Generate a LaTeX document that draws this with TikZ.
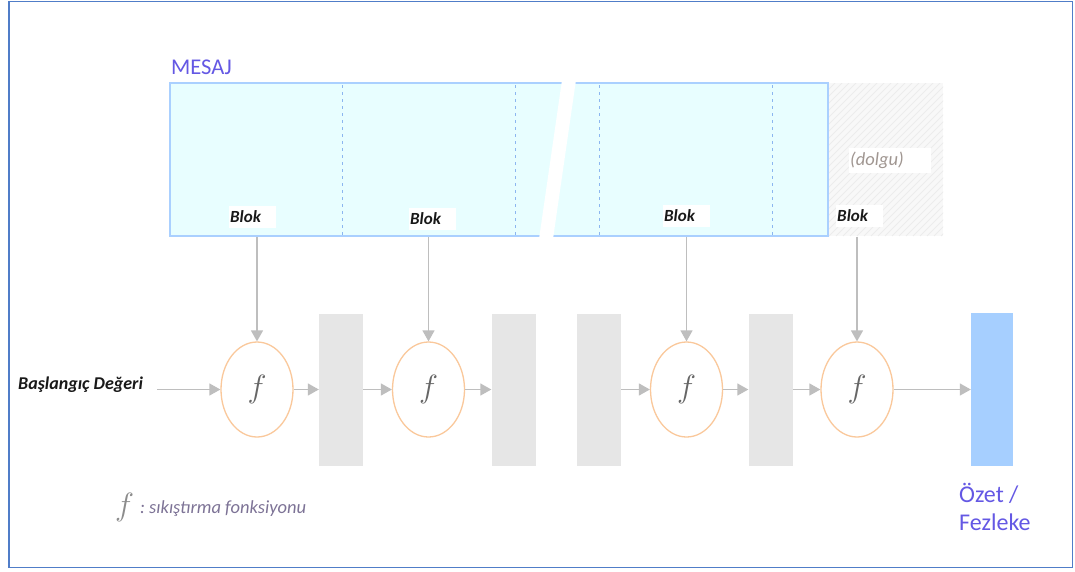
\documentclass[tikz,border=0pt]{standalone}
\usepackage{fontspec}
\setmainfont{Carlito}
\usetikzlibrary{shapes.geometric,arrows.meta}
\definecolor{frameblue}{RGB}{80,125,200}
\definecolor{msgfill}{RGB}{232,254,255}
\definecolor{msgline}{RGB}{170,208,255}
\definecolor{dashblue}{RGB}{140,182,240}
\definecolor{titlecol}{RGB}{100,88,228}
\definecolor{arrowgray}{RGB}{190,190,190}
\definecolor{rectgray}{RGB}{230,230,230}
\definecolor{outblue}{RGB}{166,207,255}
\definecolor{ellcol}{RGB}{250,200,155}
\definecolor{padfill}{RGB}{248,248,248}
\definecolor{padhatch}{RGB}{236,236,236}
\definecolor{dolgucol}{RGB}{160,150,145}
\definecolor{legendcol}{RGB}{125,115,150}
\newcommand{\bigf}{\scalebox{1.55}{\(f\)}}
\tikzset{
  fnode/.style={ellipse, draw=ellcol, line width=1.3pt, minimum width=72pt, minimum height=95pt, inner sep=0pt,
     font=\fontsize{20}{20}\selectfont, text=black!60},
  statebox/.style={rectangle, fill=rectgray, minimum width=44pt, minimum height=152pt, inner sep=0pt},
  outbox/.style={rectangle, fill=outblue, minimum width=42pt, minimum height=153pt, inner sep=0pt},
  flow/.style={draw=arrowgray, line width=1.4pt, -{Triangle[length=11pt,width=12pt]}, arrowgray},
  bloklabel/.style={anchor=west, fill=white, inner xsep=1pt, inner ysep=0pt, text width=45pt, minimum height=22pt, align=left,
     font=\fontsize{17}{17}\selectfont\bfseries\itshape, text=black!90},
  bigtitle/.style={font=\fontsize{22.5}{26}\selectfont, text=titlecol, inner sep=0pt},
  msgdash/.style={dashblue, line width=1pt, dash pattern=on 3pt off 4pt}
}
\begin{document}
\begin{tikzpicture}[x=1pt,y=-1pt]
\useasboundingbox (0,0) rectangle (1075,571);
\fill[white] (0,0) rectangle (1075,571);
\draw[frameblue, line width=1.5pt] (9,1.5) rectangle (1072.5,567.5);

% title
\node[bigtitle, anchor=base west] (mesaj) at (171,74) {MESAJ};

% padding area
\begin{scope}
\clip (828,83) rectangle (943,236);
\fill[padfill] (828,83) rectangle (943,236);
\foreach \k in {0,7,...,280} {
  \draw[padhatch, line width=0.8pt] (828-160+\k,236) -- (828+\k,76);
}
\end{scope}

% message box
\draw[fill=msgfill, draw=msgline, line width=2pt] (170,83) rectangle (828,236);
\foreach \xx in {342,515,599,772} {
  \draw[msgdash] (\xx,85) -- (\xx,235);
}
\fill[white] (562,80) -- (576,80) -- (553,239) -- (539,239) -- cycle;

% dolgu
\node[anchor=west, fill=white, text width=80pt, minimum height=25pt, inner xsep=1pt, inner ysep=0pt, align=left, text=dolgucol,
      font=\fontsize{18.5}{18.5}\selectfont\itshape] (dolgu) at (849,160) {(dolgu)};

% blok labels
\node[bloklabel] (b1) at (229,216.5) {Blok};
\node[bloklabel] (b2) at (409,219) {Blok};
\node[bloklabel] (b3) at (663,215.5) {Blok};
\node[bloklabel] (b4) at (836,216) {Blok};

% processing chain
\node[fnode] (e1) at (257,389.5) {\bigf};
\node[fnode] (e2) at (428.5,389.5) {\bigf};
\node[fnode] (e3) at (686.5,389.5) {\bigf};
\node[fnode] (e4) at (857,389.5) {\bigf};

\node[statebox] (r1) at (341,389.5) {};
\node[statebox] (r2) at (513.5,389.5) {};
\node[statebox] (r3) at (599,389.5) {};
\node[statebox] (r4) at (770.5,389.5) {};
\node[outbox] (out) at (992,389.5) {};

% vertical inputs
\coordinate (m1) at (257,237);
\coordinate (m2) at (428.5,237);
\coordinate (m3) at (686.5,237);
\coordinate (m4) at (857,237);
\draw[flow] (m1) -- (e1);
\draw[flow] (m2) -- (e2);
\draw[flow] (m3) -- (e3);
\draw[flow] (m4) -- (e4);

% start
\node[anchor=west, inner sep=0pt, font=\fontsize{18}{18}\selectfont\bfseries\itshape, text=black!90] (start) at (18,385) {Başlangıç Değeri};
\coordinate (s0) at (157,389.5);
\draw[flow] (s0) -- (e1);
\draw[flow] (e1) -- (r1);
\draw[flow] (r1) -- (e2);
\draw[flow] (e2) -- (r2);
\draw[flow] (r3) -- (e3);
\draw[flow] (e3) -- (r4);
\draw[flow] (r4) -- (e4);
\draw[flow] (e4) -- (out);

% output label
\node[bigtitle, anchor=base west, align=left, font=\fontsize{24}{26}\selectfont] (ozet) at (959,502) {Özet /};
\node[bigtitle, anchor=base west, align=left, font=\fontsize{24}{26}\selectfont] (fez) at (959,530) {Fezleke};

% legend
\node[inner sep=0pt, font=\fontsize{20}{20}\selectfont, text=black!45] (lf) at (124.5,507) {\bigf};
\node[anchor=base west, inner sep=0pt, font=\fontsize{18.5}{18.5}\selectfont\itshape, text=legendcol] (lt) at (140,513) {:\hspace{4pt}sıkıştırma fonksiyonu};
\end{tikzpicture}
\end{document}
